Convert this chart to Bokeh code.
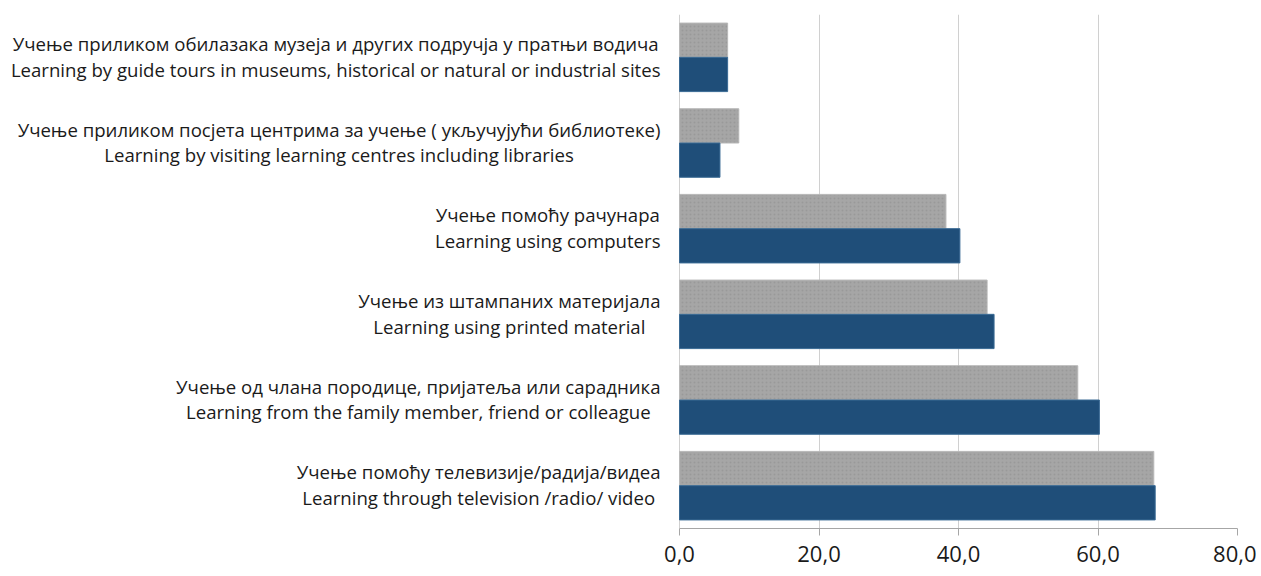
from bokeh.plotting import figure
from bokeh.models import (FixedTicker, CustomJSTickFormatter, ColumnDataSource, Range1d,
                          CustomJSTransform)
from bokeh.core.properties import value
from bokeh.transform import transform
from bokeh.embed import file_html
from bokeh.resources import INLINE

categories = [
    "Учење приликом обилазака музеја и других подручја у пратњи водича\nLearning by guide tours in museums, historical or natural or industrial sites",
    "Учење приликом посјета центрима за учење ( укључујући библиотеке)\nLearning by visiting learning centres including libraries",
    "Учење помоћу рачунара\nLearning using computers",
    "Учење из штампаних материјала\nLearning using printed material",
    "Учење од члана породице, пријатеља или сарадника\nLearning from the family member, friend or colleague",
    "Учење помоћу телевизије/радија/видеа\nLearning through television /radio/ video",
]
gray_values = [6.9, 8.5, 38.2, 44.1, 57.1, 68.0]
blue_values = [6.9, 5.8, 40.2, 45.1, 60.2, 68.2]
x_ticks = [0, 20, 40, 60, 80]

FONT = "Open Sans"
LABEL_SIZE = 18.6
X_MAX = 80
PLOT_LEFT = 679     # px where the value axis starts
PLOT_RIGHT = 1237   # px where the value axis ends
LABEL_GAP = 19      # px between label blocks and the value axis

px_per_unit = (PLOT_RIGHT - PLOT_LEFT) / X_MAX
x_start = -PLOT_LEFT / px_per_unit

n = len(categories)
ypos = [n - 1 - i for i in range(n)]

src = ColumnDataSource(dict(
    y_gray=[y + 0.2 for y in ypos],
    y_blue=[y - 0.2 for y in ypos],
    gray=gray_values,
    blue=blue_values,
))

p = figure(width=1256, height=568, output_backend="svg", toolbar_location=None,
           x_range=Range1d(x_start, X_MAX), y_range=Range1d(-0.5, n - 0.5),
           y_axis_location=None,
           min_border_left=0, min_border_right=1256 - PLOT_RIGHT,
           min_border_top=14, min_border_bottom=40)
p.outline_line_color = None

p.hbar(y="y_gray", right="gray", left=0, height=0.4, source=src,
       fill_color="#a6a6a6", line_color="#b8b8b8", line_width=1,
       hatch_pattern="dot", hatch_color="#8a8a8a", hatch_scale=4, hatch_weight=1, hatch_alpha=0.45)
p.hbar(y="y_blue", right="blue", left=0, height=0.4, source=src,
       fill_color="#1f4e79", line_color="#3a6a94", line_width=1)

p.xgrid.grid_line_color = "#d0d0d0"
p.xgrid.grid_line_width = 1
p.ygrid.grid_line_color = None
p.xaxis.ticker = FixedTicker(ticks=x_ticks)
p.xaxis.bounds = (0, X_MAX)
p.xaxis.formatter = CustomJSTickFormatter(code="return tick.toFixed(1).replace('.', ',');")
p.xaxis.axis_line_color = "#a6a6a6"
p.xaxis.major_tick_line_color = "#a6a6a6"
p.xaxis.major_tick_out = 7
p.xaxis.major_tick_in = 0
p.xaxis.minor_tick_line_color = None
p.xaxis.major_label_text_font = FONT
p.xaxis.major_label_text_font_size = "22px"
p.xaxis.major_label_text_color = "#1a1a1a"
p.xaxis.major_label_standoff = 10

# category labels: each block right-aligned next to the value axis, lines centred in the block
label_src = ColumnDataSource(dict(y=ypos, text=categories))
measure = CustomJSTransform(args=dict(right=-LABEL_GAP / px_per_unit, scale=px_per_unit,
                                      font=f'{LABEL_SIZE}px "{FONT}"'), v_func="""
const ctx = document.createElement('canvas').getContext('2d');
ctx.font = font;
const out = new Float64Array(xs.length);
for (let i = 0; i < xs.length; i++) {
  const lines = String(xs[i]).split('\\n');
  let w = 0;
  for (const l of lines) { w = Math.max(w, ctx.measureText(l).width); }
  out[i] = right - (w / 2) / scale;
}
return out;
""")
p.text(x=transform("text", measure), y="y", text="text", source=label_src,
       text_align="center", text_baseline="middle", y_offset=-1,
       text_font=value(FONT), text_font_size=value(f"{LABEL_SIZE}px"),
       text_color="#1a1a1a", text_line_height=1.03)

open("out.html", "w").write(file_html(p, INLINE))
